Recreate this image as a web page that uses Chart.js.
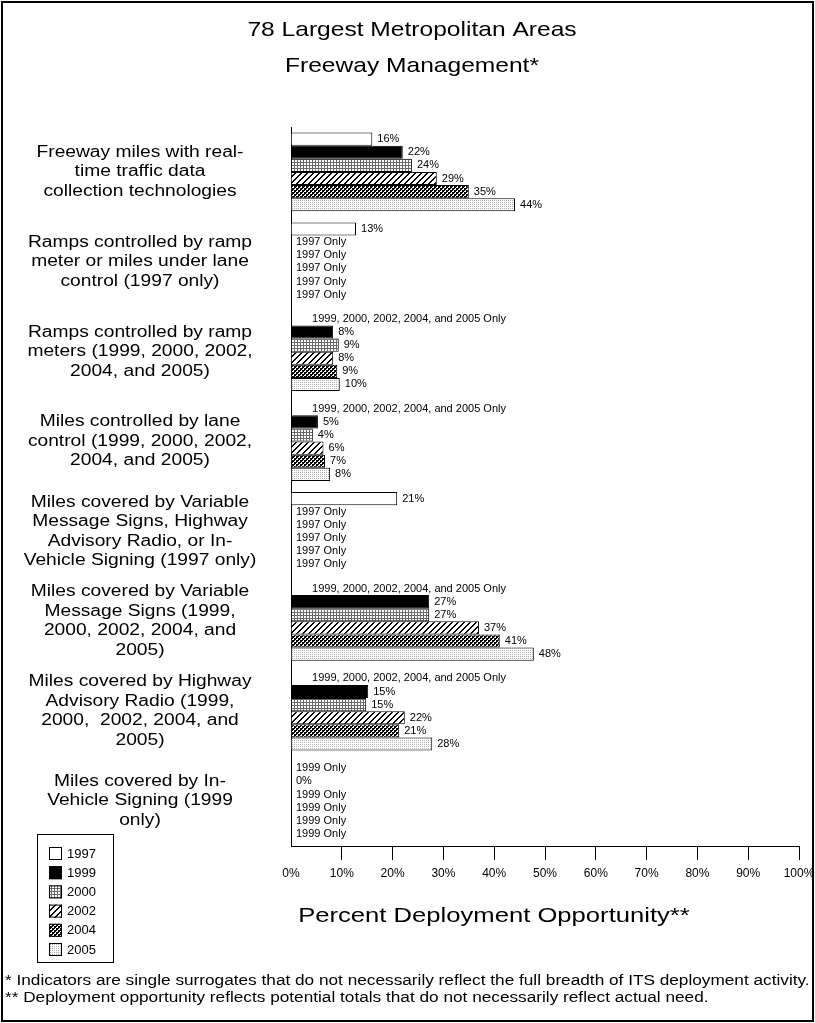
<!DOCTYPE html>
<html>
<head>
<meta charset="utf-8">
<script src="https://cdn.jsdelivr.net/npm/chart.js@4.4.1/dist/chart.umd.min.js"></script>
<style>
  html, body { margin: 0; padding: 0; background: #fff; }
  #wrap { position: relative; width: 815px; height: 1023px; }
</style>
</head>
<body>
<div id="wrap"><canvas id="freewayChart"></canvas></div>
<script>
// categories, top to bottom (each entry is the wrapped label)
const categories = [
    ['Freeway miles with real-', 'time traffic data', 'collection technologies'],
    ['Ramps controlled by ramp', 'meter or miles under lane', 'control (1997 only)'],
    ['Ramps controlled by ramp', 'meters (1999, 2000, 2002,', '2004, and 2005)'],
    ['Miles controlled by lane', 'control (1999, 2000, 2002,', '2004, and 2005)'],
    ['Miles covered by Variable', 'Message Signs, Highway', 'Advisory Radio, or In-', 'Vehicle Signing (1997 only)'],
    ['Miles covered by Variable', 'Message Signs (1999,', '2000, 2002, 2004, and', '2005)'],
    ['Miles covered by Highway', 'Advisory Radio (1999,', '2000,  2002, 2004, and', '2005)'],
    ['Miles covered by In-', 'Vehicle Signing (1999', 'only)']
];
const years = ['1997', '1999', '2000', '2002', '2004', '2005'];

// percent deployment values (null = not measured that year)
const data1997 = [16, 12.8, null, null, 20.9, null, null, null];
const data1999 = [22, null, 8.3, 5.3, null, 27.2, 15.2, 0];
const data2000 = [23.8, null, 9.4, 4.3, null, 27.2, 14.8, null];
const data2002 = [28.7, null, 8.3, 6.4, null, 37, 22.4, null];
const data2004 = [35, null, 9.1, 6.7, null, 41.1, 21.3, null];
const data2005 = [44.1, null, 9.6, 7.7, null, 47.8, 27.8, null];

// text shown in place of a missing bar
const notes = [null, '1997 Only', '1999, 2000, 2002, 2004, and 2005 Only', '1999, 2000, 2002, 2004, and 2005 Only',
    '1997 Only', '1999, 2000, 2002, 2004, and 2005 Only', '1999, 2000, 2002, 2004, and 2005 Only', '1999 Only'];

const xTicks = [0, 10, 20, 30, 40, 50, 60, 70, 80, 90, 100];

const FONT = 'Arial, "Liberation Sans", Helvetica, sans-serif';

function makePattern(size, bg, fg, pixels) {
    const c = document.createElement('canvas');
    c.width = size; c.height = size;
    const g = c.getContext('2d');
    g.fillStyle = bg;
    g.fillRect(0, 0, size, size);
    g.fillStyle = fg;
    pixels.forEach(p => g.fillRect(p[0], p[1], 1, 1));
    return g.createPattern(c, 'repeat');
}

// little bitmap fills like the original print patterns
const gridFill = makePattern(3, '#fff', '#6a6a6a', [[0,0],[1,0],[2,0],[0,1],[0,2]]);
const hatchFill = makePattern(6, '#fff', '#000', [[5,0],[0,0],[4,1],[5,1],[3,2],[4,2],[2,3],[3,3],[1,4],[2,4],[0,5],[1,5]]);
const checkFill = makePattern(4, '#fff', '#000', [[0,0],[1,0],[0,1],[1,1],[2,2],[3,2],[2,3],[3,3],[2,0],[0,2]]);
const dotFill = makePattern(2, '#fff', '#b0b0b0', [[0,0]]);

const fills = ['#ffffff', '#000000', gridFill, hatchFill, checkFill, dotFill];
const series = [data1997, data1999, data2000, data2002, data2004, data2005];

// the source artwork has its larger text a bit wider than plain Arial
function wideText(ctx, text, x, y, sx) {
    ctx.save();
    ctx.translate(x, y);
    ctx.scale(sx, 1);
    ctx.fillText(text, 0, 0);
    ctx.restore();
}

const decorations = {
    id: 'decorations',
    beforeDraw(chart) {
        const ctx = chart.ctx;
        const yScale = chart.scales.y;
        ctx.save();
        ctx.fillStyle = '#fff';
        ctx.fillRect(0, 0, chart.width, chart.height);

        // frame
        ctx.strokeStyle = '#000';
        ctx.lineWidth = 2;
        ctx.strokeRect(2, 2, chart.width - 4, chart.height - 4);

        ctx.fillStyle = '#000';
        ctx.textAlign = 'center';
        ctx.textBaseline = 'middle';
        ctx.font = '21px ' + FONT;
        wideText(ctx, '78 Largest Metropolitan Areas', 412, 30, 1.17);
        wideText(ctx, 'Freeway Management*', 412, 66, 1.17);

        ctx.font = '21px ' + FONT;
        wideText(ctx, 'Percent Deployment Opportunity**', 494, 916, 1.22);

        // category labels
        ctx.font = '16px ' + FONT;
        categories.forEach((lines, i) => {
            const cy = yScale.getPixelForValue(i);
            const top = cy - (lines.length - 1) * 19.5 / 2;
            lines.forEach((ln, k) => wideText(ctx, ln, 140, top + k * 19.5, 1.2));
        });

        // legend box
        ctx.lineWidth = 1;
        ctx.strokeRect(37.5, 834.5, 76, 128);
        ctx.font = '13px ' + FONT;
        ctx.textAlign = 'left';
        years.forEach((yr, i) => {
            const y = 853 + i * 19.2;
            ctx.fillStyle = fills[i];
            ctx.fillRect(49, y - 6, 13, 13);
            ctx.strokeRect(49.5, y - 5.5, 12, 12);
            ctx.fillStyle = '#000';
            ctx.fillText(yr, 67, y + 1);
        });

        // footnotes
        ctx.font = '14px ' + FONT;
        wideText(ctx, '* Indicators are single surrogates that do not necessarily reflect the full breadth of ITS deployment activity.', 5, 981, 1.23);
        wideText(ctx, '** Deployment opportunity reflects potential totals that do not necessarily reflect actual need.', 5, 998, 1.23);
        ctx.restore();
    },
    afterDatasetsDraw(chart) {
        const ctx = chart.ctx;
        const left = chart.chartArea.left;
        ctx.save();
        ctx.fillStyle = '#000';
        ctx.font = '11px ' + FONT;
        ctx.textBaseline = 'middle';
        chart.data.datasets.forEach((ds, i) => {
            const meta = chart.getDatasetMeta(i);
            meta.data.forEach((bar, j) => {
                const v = ds.data[j];
                if (v === null) {
                    const note = notes[j];
                    if (!note) return;
                    if (note.length > 12) {
                        ctx.textAlign = 'center';
                        ctx.fillText(note, left + 118, bar.y);
                    } else {
                        ctx.textAlign = 'left';
                        ctx.fillText(note, left + 5, bar.y);
                    }
                } else {
                    ctx.textAlign = 'left';
                    ctx.fillText(Math.round(v) + '%', bar.x + 5, bar.y);
                }
            });
        });
        ctx.restore();
    }
};

const ctx = document.getElementById('freewayChart').getContext('2d');
const freewayChart = new Chart(ctx, {
    type: 'bar',
    data: {
        labels: categories,
        datasets: years.map((yr, i) => ({
            label: yr,
            data: series[i],
            backgroundColor: fills[i],
            borderColor: '#000',
            borderWidth: 1,
            barPercentage: 1,
            categoryPercentage: 0.875
        }))
    },
    options: {
        indexAxis: 'y',
        responsive: true,
        maintainAspectRatio: false,
        animation: false,
        layout: {
            padding: { left: 291, right: 16, top: 127, bottom: 137 }
        },
        plugins: {
            legend: { display: false },
            title: { display: false },
            tooltip: { enabled: false }
        },
        scales: {
            x: {
                min: 0,
                max: 100,
                afterBuildTicks: s => { s.ticks = xTicks.map(v => ({ value: v })); },
                afterFit: s => { s.height = 40; s.paddingLeft = 0; s.paddingRight = 0; },
                ticks: {
                    color: '#000',
                    font: { family: FONT, size: 12 },
                    padding: 6,
                    maxRotation: 0,
                    callback: v => v + '%'
                },
                grid: {
                    drawOnChartArea: false,
                    drawTicks: true,
                    tickLength: 14,
                    color: c => c.index === 0 ? 'rgba(0,0,0,0)' : '#000'
                },
                border: { display: true, color: '#000', width: 1 }
            },
            y: {
                afterDataLimits: s => { s.max = s.max + 0.06; },
                afterFit: s => { s.width = 0; },
                ticks: { display: false },
                grid: { display: false },
                border: { display: true, color: '#000', width: 1 }
            }
        }
    },
    plugins: [decorations]
});
</script>
</body>
</html>
